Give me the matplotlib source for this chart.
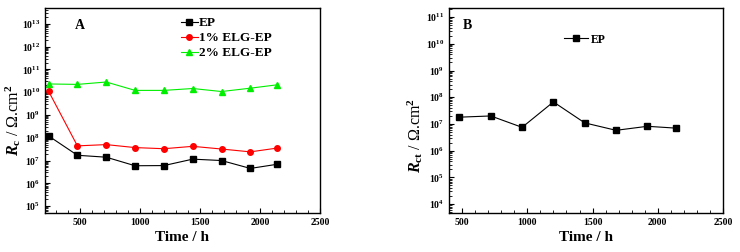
import matplotlib.pyplot as plt
from matplotlib.ticker import LogLocator, MultipleLocator, NullFormatter

plt.rcParams['font.family'] = ['Liberation Serif', 'DejaVu Serif']
plt.rcParams['font.weight'] = 'bold'
plt.rcParams['mathtext.fontset'] = 'custom'
plt.rcParams['mathtext.rm'] = 'Liberation Serif:bold'
plt.rcParams['mathtext.it'] = 'Liberation Serif:bold:italic'
plt.rcParams['mathtext.bf'] = 'Liberation Serif:bold'

# panel A data
time_a = [240, 480, 720, 960, 1200, 1440, 1680, 1920, 2140]
rc_ep = [1.2e8, 1.7e7, 1.4e7, 5.9e6, 6.0e6, 1.15e7, 1.0e7, 4.5e6, 6.8e6]
rc_1 = [1.1e10, 4.4e7, 5.0e7, 3.7e7, 3.3e7, 4.2e7, 3.2e7, 2.4e7, 3.5e7]
rc_2 = [2.3e10, 2.2e10, 2.8e10, 1.2e10, 1.2e10, 1.45e10, 1.07e10, 1.5e10, 2.1e10]

# panel B data
time_b = [480, 720, 960, 1200, 1440, 1680, 1920, 2140]
rct_ep = [1.8e7, 2.0e7, 7.5e6, 6.7e7, 1.1e7, 5.8e6, 8.2e6, 7.0e6]

fig = plt.figure(figsize=(7.4, 2.52), dpi=100)
ax1 = fig.add_axes([0.0608, 0.155, 0.3716, 0.8135])
ax2 = fig.add_axes([0.6068, 0.155, 0.3703, 0.8135])


def style_axis(ax):
    ax.set_yscale('log')
    ax.tick_params(which='both', direction='in', top=False, right=False, labelsize=7)
    ax.tick_params(which='major', length=3.5, width=0.8)
    ax.tick_params(which='minor', length=2, width=0.6)
    ax.xaxis.set_major_locator(MultipleLocator(500))
    ax.xaxis.set_minor_locator(MultipleLocator(100))
    ax.yaxis.set_major_locator(LogLocator(base=10, numticks=20))
    ax.yaxis.set_minor_locator(LogLocator(base=10, subs=range(2, 10), numticks=20))
    ax.yaxis.set_minor_formatter(NullFormatter())
    for s in ax.spines.values():
        s.set_linewidth(1.0)
    ax.set_xlabel('Time / h', fontsize=11, fontweight='bold', labelpad=3)


ax1.plot(time_a, rc_ep, '-s', color='black', ms=4, lw=0.8, label='EP')
ax1.plot(time_a, rc_1, '-o', color='#ff0000', ms=4, lw=0.8, label='1% ELG-EP')
ax1.plot(time_a, rc_2, '-^', color='#00ee00', ms=4.5, lw=0.8, label='2% ELG-EP')
style_axis(ax1)
ax1.set_xlim(210, 2500)
ax1.set_ylim(5e4, 5e13)
ax1.set_ylabel(r'$R_{\mathrm{c}}$ / Ω.cm$^2$', fontsize=11.5)
ax1.yaxis.set_label_coords(-0.08, 0.45)
ax1.text(0.11, 0.915, 'A', transform=ax1.transAxes, fontsize=10, fontweight='bold', va='center')
ax1.legend(loc='upper left', bbox_to_anchor=(0.46, 1.0), frameon=False, fontsize=9.5,
           handlelength=1.3, handletextpad=0.1, borderpad=0.2, labelspacing=0.2)

ax2.plot(time_b, rct_ep, '-s', color='black', ms=4, lw=0.8, label='EP')
style_axis(ax2)
ax2.set_xlim(400, 2500)
ax2.set_ylim(4.7e3, 2.2e11)
ax2.set_ylabel(r'$R_{\mathrm{ct}}$ / Ω.cm$^2$', fontsize=11.5)
ax2.yaxis.set_label_coords(-0.088, 0.38)
ax2.text(0.05, 0.915, 'B', transform=ax2.transAxes, fontsize=10, fontweight='bold', va='center')
ax2.legend(loc='upper left', bbox_to_anchor=(0.39, 0.915), frameon=False, fontsize=8.5,
           handlelength=2.0, handletextpad=0.3, borderpad=0.2)

fig.savefig('out.png', dpi=100)
